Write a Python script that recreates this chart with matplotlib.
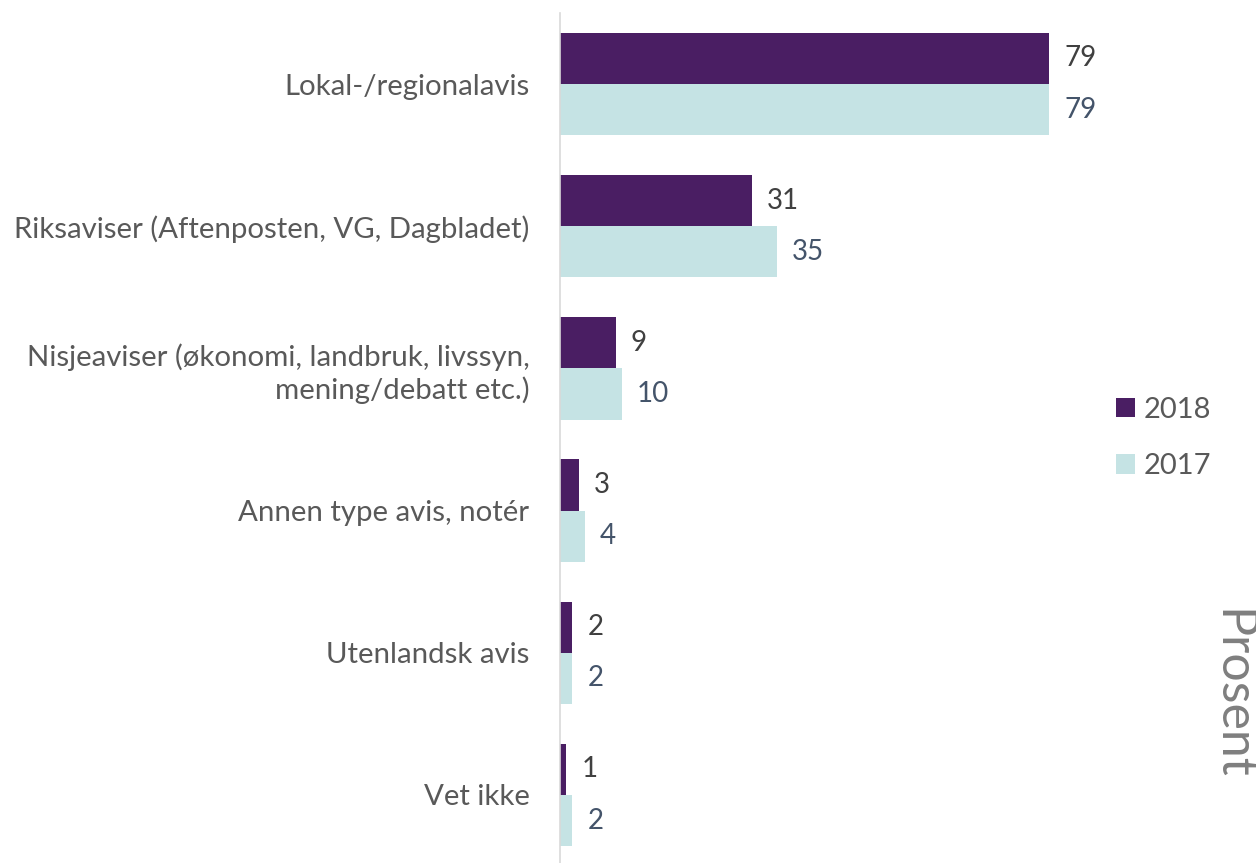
import matplotlib.pyplot as plt
import numpy as np

plt.rcParams['font.family'] = ['Lato', 'DejaVu Sans']

categories = [
    'Lokal-/regionalavis',
    'Riksaviser (Aftenposten, VG, Dagbladet)',
    'Nisjeaviser (økonomi, landbruk, livssyn,\nmening/debatt etc.)',
    'Annen type avis, notér',
    'Utenlandsk avis',
    'Vet ikke',
]
values_2018 = [79, 31, 9, 3, 2, 1]
values_2017 = [79, 35, 10, 4, 2, 2]

c2018 = '#4A1E63'
c2017 = '#C5E3E4'

fig = plt.figure(figsize=(12.56, 8.63), dpi=100)
# axes left edge at x=560px, top ~13px, bottom ~866px
ax = fig.add_axes([560 / 1256, -3 / 863, 620 / 1256, 853 / 863])

y = np.arange(len(categories))
h = 0.36
b1 = ax.barh(y - h / 2, values_2018, height=h, color=c2018, label='2018')
b2 = ax.barh(y + h / 2, values_2017, height=h, color=c2017, label='2017')

ax.bar_label(b1, padding=11, fontsize=20, color='#404040')
ax.bar_label(b2, padding=11, fontsize=20, color='#44546A')

ax.set_ylim(len(categories) - 0.5, -0.5)
ax.set_xlim(0, 79 * 620 / 489)
ax.set_yticks(y)
ax.set_yticklabels(categories, fontsize=21.2, color='#595959', ha='right',
                   linespacing=1.22)
ax.tick_params(axis='y', length=0, pad=22)
ax.set_xticks([])

for s in ['top', 'right', 'bottom']:
    ax.spines[s].set_visible(False)
ax.spines['left'].set_color('#D9D9D9')
ax.spines['left'].set_linewidth(1.2)

leg = fig.legend(loc='center left', bbox_to_anchor=(1101 / 1256, 1 - 438 / 863),
                 frameon=False, fontsize=21, handlelength=0.65, handleheight=0.65,
                 labelspacing=1.05, handletextpad=0.3, borderpad=0)
for t in leg.get_texts():
    t.set_color('#595959')

fig.text(1231 / 1256, 1 - 694 / 863, 'Prosent', rotation=270, fontsize=36,
         color='#7F7F7F', ha='center', va='center')

fig.savefig('out.png', dpi=100)
